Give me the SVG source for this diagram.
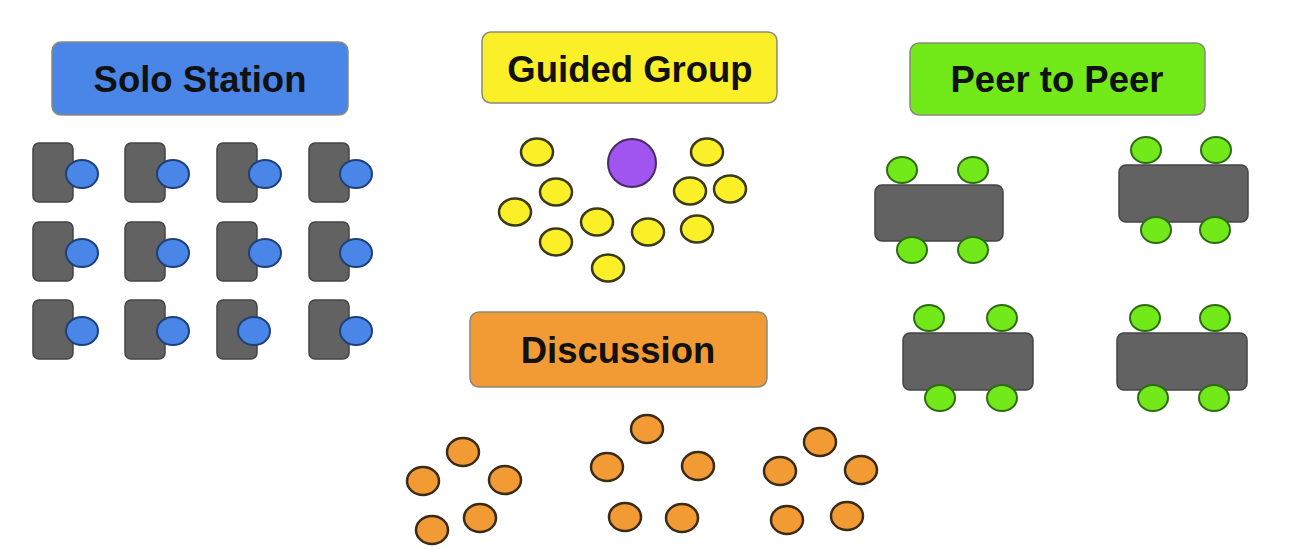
<svg xmlns="http://www.w3.org/2000/svg" width="1304" height="549" viewBox="0 0 1304 549">
<style>
.lbl{stroke:#8a8a7a;stroke-width:1.5}
.t{font-family:"Liberation Sans",Arial,sans-serif;font-weight:bold;font-size:36.5px;fill:#111;text-anchor:middle}
.desk{fill:#626262;stroke:#444;stroke-width:1.5}
.sb{fill:#4a86e8;stroke:#1f3f78;stroke-width:2}
.sy{fill:#fbf027;stroke:#3a3a1a;stroke-width:2.5}
.sp{fill:#a155f0;stroke:#4a2a66;stroke-width:2}
.sg{fill:#72ea1a;stroke:#2f6a14;stroke-width:2}
.so{fill:#f29b35;stroke:#3a2a18;stroke-width:2.5}
</style>
<rect width="1304" height="549" fill="#ffffff"/>
<defs>
<g id="solo"><rect class="desk" x="0" y="0" width="40" height="59" rx="6"/></g>
</defs>

<g id="solo-station">
<rect class="lbl" x="52" y="42" width="296" height="73" rx="9" fill="#4a86e8"/>
<text class="t" x="200" y="92">Solo Station</text>
<g id="solo-desks">
<use href="#solo" x="33" y="143"/><ellipse class="sb" cx="82" cy="174" rx="16" ry="14"/>
<use href="#solo" x="125" y="143"/><ellipse class="sb" cx="173" cy="174" rx="16" ry="14"/>
<use href="#solo" x="217" y="143"/><ellipse class="sb" cx="265" cy="174" rx="16" ry="14"/>
<use href="#solo" x="309" y="143"/><ellipse class="sb" cx="356" cy="174" rx="16" ry="14"/>
<use href="#solo" x="33" y="222"/><ellipse class="sb" cx="82" cy="253" rx="16" ry="14"/>
<use href="#solo" x="125" y="222"/><ellipse class="sb" cx="173" cy="253" rx="16" ry="14"/>
<use href="#solo" x="217" y="222"/><ellipse class="sb" cx="265" cy="253" rx="16" ry="14"/>
<use href="#solo" x="309" y="222"/><ellipse class="sb" cx="356" cy="253" rx="16" ry="14"/>
<use href="#solo" x="33" y="300"/><ellipse class="sb" cx="82" cy="331" rx="16" ry="14"/>
<use href="#solo" x="125" y="300"/><ellipse class="sb" cx="173" cy="331" rx="16" ry="14"/>
<use href="#solo" x="217" y="300"/><ellipse class="sb" cx="254" cy="331" rx="16" ry="14"/>
<use href="#solo" x="309" y="300"/><ellipse class="sb" cx="356" cy="331" rx="16" ry="14"/>
</g>
</g>

<g id="guided-group">
<rect class="lbl" x="482" y="32" width="295" height="71" rx="9" fill="#fbf027"/>
<text class="t" x="630" y="82">Guided Group</text>
<g id="guided-seats">
<circle class="sp" cx="632" cy="163" r="24"/>
<ellipse class="sy" cx="537" cy="152" rx="16" ry="13.5"/>
<ellipse class="sy" cx="707" cy="152" rx="16" ry="13.5"/>
<ellipse class="sy" cx="556" cy="192" rx="16" ry="13.5"/>
<ellipse class="sy" cx="690" cy="191" rx="16" ry="13.5"/>
<ellipse class="sy" cx="730" cy="189" rx="16" ry="13.5"/>
<ellipse class="sy" cx="515" cy="212" rx="16" ry="13.5"/>
<ellipse class="sy" cx="597" cy="222" rx="16" ry="13.5"/>
<ellipse class="sy" cx="648" cy="232" rx="16" ry="13.5"/>
<ellipse class="sy" cx="697" cy="229" rx="16" ry="13.5"/>
<ellipse class="sy" cx="556" cy="242" rx="16" ry="13.5"/>
<ellipse class="sy" cx="608" cy="268" rx="16" ry="13.5"/>
</g>
</g>

<g id="peer-to-peer">
<rect class="lbl" x="910" y="43" width="295" height="72" rx="9" fill="#72ea1a"/>
<text class="t" x="1057" y="92">Peer to Peer</text>
<g id="table-1">
<ellipse class="sg" cx="902" cy="170" rx="15" ry="13"/>
<ellipse class="sg" cx="973" cy="170" rx="15" ry="13"/>
<rect class="desk" x="875" y="185" width="128" height="56" rx="7"/>
<ellipse class="sg" cx="912" cy="250" rx="15" ry="13"/>
<ellipse class="sg" cx="973" cy="250" rx="15" ry="13"/>
</g>
<g id="table-2">
<ellipse class="sg" cx="1146" cy="150" rx="15" ry="13"/>
<ellipse class="sg" cx="1216" cy="150" rx="15" ry="13"/>
<rect class="desk" x="1119" y="165" width="129" height="57" rx="7"/>
<ellipse class="sg" cx="1156" cy="230" rx="15" ry="13"/>
<ellipse class="sg" cx="1215" cy="230" rx="15" ry="13"/>
</g>
<g id="table-3">
<ellipse class="sg" cx="929" cy="318" rx="15" ry="13"/>
<ellipse class="sg" cx="1002" cy="318" rx="15" ry="13"/>
<rect class="desk" x="903" y="333" width="130" height="57" rx="7"/>
<ellipse class="sg" cx="940" cy="398" rx="15" ry="13"/>
<ellipse class="sg" cx="1002" cy="398" rx="15" ry="13"/>
</g>
<g id="table-4">
<ellipse class="sg" cx="1145" cy="318" rx="15" ry="13"/>
<ellipse class="sg" cx="1215" cy="318" rx="15" ry="13"/>
<rect class="desk" x="1117" y="333" width="130" height="57" rx="7"/>
<ellipse class="sg" cx="1153" cy="398" rx="15" ry="13"/>
<ellipse class="sg" cx="1214" cy="398" rx="15" ry="13"/>
</g>
</g>

<g id="discussion">
<rect class="lbl" x="470" y="312" width="297" height="75" rx="9" fill="#f29b35"/>
<text class="t" x="618" y="363">Discussion</text>
<g id="discussion-group-1">
<ellipse class="so" cx="463" cy="452" rx="16" ry="14"/>
<ellipse class="so" cx="423" cy="481" rx="16" ry="14"/>
<ellipse class="so" cx="505" cy="480" rx="16" ry="14"/>
<ellipse class="so" cx="480" cy="518" rx="16" ry="14"/>
<ellipse class="so" cx="432" cy="530" rx="16" ry="14"/>
</g>
<g id="discussion-group-2">
<ellipse class="so" cx="647" cy="429" rx="16" ry="14"/>
<ellipse class="so" cx="607" cy="467" rx="16" ry="14"/>
<ellipse class="so" cx="698" cy="466" rx="16" ry="14"/>
<ellipse class="so" cx="625" cy="517" rx="16" ry="14"/>
<ellipse class="so" cx="682" cy="518" rx="16" ry="14"/>
</g>
<g id="discussion-group-3">
<ellipse class="so" cx="820" cy="442" rx="16" ry="14"/>
<ellipse class="so" cx="780" cy="471" rx="16" ry="14"/>
<ellipse class="so" cx="861" cy="470" rx="16" ry="14"/>
<ellipse class="so" cx="787" cy="520" rx="16" ry="14"/>
<ellipse class="so" cx="847" cy="516" rx="16" ry="14"/>
</g>
</g>

<g id="connectors"></g>
</svg>
